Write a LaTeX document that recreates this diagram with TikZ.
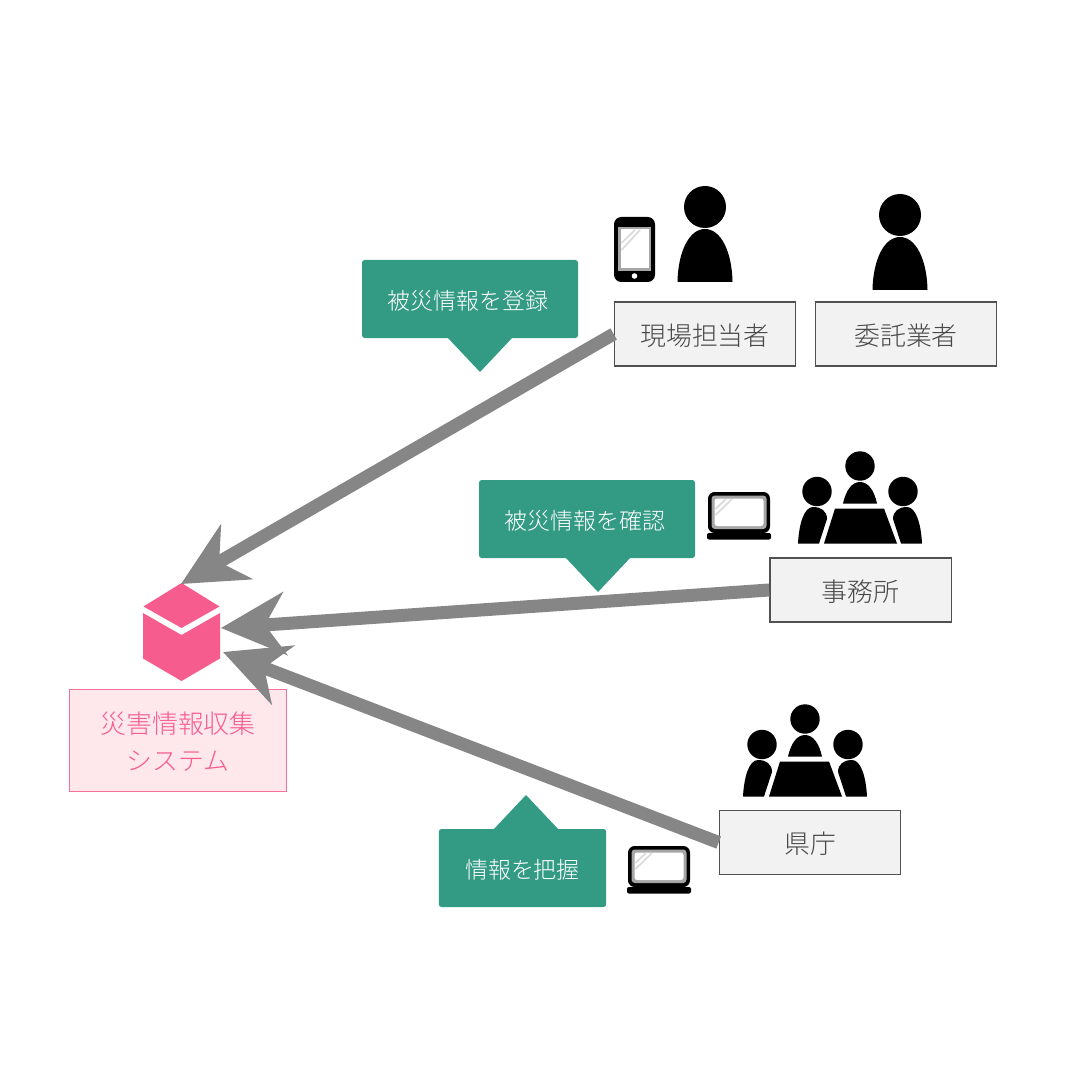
\documentclass[tikz,border=0pt]{standalone}
\usepackage{fontspec}
\setmainfont{Noto Sans CJK JP}[UprightFont=* Light]
\usetikzlibrary{arrows.meta}
\definecolor{boxfill}{HTML}{F2F2F2}
\definecolor{boxline}{HTML}{505050}
\definecolor{boxtext}{HTML}{484848}
\definecolor{pinkfill}{HTML}{FEE8EC}
\definecolor{pinkline}{HTML}{F7709B}
\definecolor{pinktext}{HTML}{F75C8E}
\definecolor{cubepink}{HTML}{F75C8E}
\definecolor{callgreen}{HTML}{339A84}
\definecolor{flowgray}{HTML}{868686}
\newcommand{\lowered}[1]{\raisebox{-1.1pt}[.76em][0pt]{#1}}
\tikzset{
  x=0.75pt,y=-0.75pt,
  actorbox/.style={draw=boxline,fill=boxfill,line width=1pt,text=boxtext,minimum width=136pt,minimum height=48pt,inner sep=0pt,font=\fontsize{19.4}{24}\selectfont},
  sysbox/.style={draw=pinkline,fill=pinkfill,line width=1.2pt,text=pinktext,minimum width=162.5pt,minimum height=76.5pt,inner sep=0pt,align=center,font=\fontsize{19.4}{27.75}\selectfont},
  callbox/.style={fill=callgreen,rounded corners=2pt,text=white,minimum height=58.5pt,inner sep=0pt,font=\fontsize{17.2}{22}\selectfont},
  flow/.style={draw=flowgray,line width=9.75pt,-{Stealth[length=48pt,width=47pt,inset=15pt,fill=flowgray]}},
  person/.pic={
    \fill (0,0) circle[radius=21];
    \fill (-27.5,75) .. controls (-27,45) and (-16,22) .. (0,22) .. controls (16,22) and (27,45) .. (27.5,75) -- cycle;
  },
  meeting/.pic={
    \fill (0,0) circle[radius=14.7];
    \fill (-43,25.5) circle[radius=14.7];
    \fill (43,25.5) circle[radius=14.7];
    \fill (-17,37.5) .. controls (-14,24) and (-8,16) .. (0,16) .. controls (8,16) and (14,24) .. (17,37.5) -- cycle;
    \fill (-25,42.5) -- (24,42.5) -- (37,77.5) -- (-36,77.5) -- cycle;
    \fill (-62,77.5) .. controls (-61,58) and (-56,41) .. (-47,41) .. controls (-39,41) and (-33,45) .. (-33,53) -- (-41,77.5) -- cycle;
    \fill (62,77.5) .. controls (61,58) and (56,41) .. (47,41) .. controls (39,41) and (33,45) .. (33,53) -- (41,77.5) -- cycle;
  },
  laptop/.pic={
    \fill[rounded corners=5pt] (0,0) rectangle (62,41);
    \fill[gray!70,rounded corners=2.5pt] (3.5,3.5) rectangle (58.5,37);
    \fill[white,rounded corners=2pt] (6.5,6.5) rectangle (55.5,34);
    \draw[gray!30,line width=1.2pt] (7.5,17) -- (18,7) (7.5,23) -- (24,7);
    \fill[rounded corners=1.5pt] (-1,41) rectangle (63,47.5);
  },
  phone/.pic={
    \fill[rounded corners=5.5pt] (0,0) rectangle (41,65);
    \fill[gray!70] (4,10) rectangle (37,54);
    \fill[white] (6.5,12.5) rectangle (34.5,51.5);
    \draw[gray!30,line width=1.2pt] (7.5,26) -- (21,13) (7.5,33) -- (26,13);
    \fill[white] (20.5,59) circle[radius=2.8];
  }
}
\begin{document}
\begin{tikzpicture}
\useasboundingbox (0,0) rectangle (1080,1080);
\fill[white] (0,0) rectangle (1080,1080);

% icons
\pic at (705,207) {person};
\pic at (900,215) {person};
\pic at (614,217) {phone};
\pic at (860,466) {meeting};
\pic at (805,719) {meeting};
\pic at (708,492) {laptop};
\pic at (628,846) {laptop};

% actor boxes
\node[actorbox] (genba) at (705,334) {\lowered{現場担当者}};
\node[actorbox] (itaku) at (906,334) {\lowered{委託業者}};
\node[actorbox] (jimu) at (860.5,590) {\lowered{事務所}};
\node[actorbox] (ken) at (810,842.5) {\lowered{県庁}};

% system
\node[sysbox] (sys) at (178,740.5) {\lowered{災害情報収集}\\\lowered{システム}};
\node[minimum width=58pt,minimum height=74pt,inner sep=0pt] (cube) at (181.5,632) {};
\fill[cubepink] (181.5,583) -- (219.5,606.5) -- (181.5,628) -- (143.5,606.5) -- cycle;
\fill[cubepink] (143,613) -- (181.5,635) -- (220,613) -- (220,658.5) -- (181.5,681) -- (143,658.5) -- cycle;

% callouts
\node[callbox,minimum width=162pt] (c1) at (470,299) {\hspace{-3pt}\lowered{被災情報を登録}};
\fill[callgreen] (447,337) -- (513,337) -- (480,372) -- cycle;
\node[callbox,minimum width=162pt] (c2) at (587,519) {\hspace{-3pt}\lowered{被災情報を確認}};
\fill[callgreen] (565,557) -- (631,557) -- (598,592) -- cycle;
\node[callbox,minimum width=125.5pt] (c3) at (522.5,868) {\lowered{情報を把握}};
\fill[callgreen] (493,830) -- (559,830) -- (526,795) -- cycle;

% connectors
\coordinate (tipA) at (181,584);
\coordinate (tipB) at (221,628);
\coordinate (tipC) at (223,652);
\draw[flow] (genba.west) -- (tipA);
\draw[flow] (jimu.west) -- (tipB);
\draw[flow] (ken.west) -- (tipC);
\end{tikzpicture}
\end{document}
